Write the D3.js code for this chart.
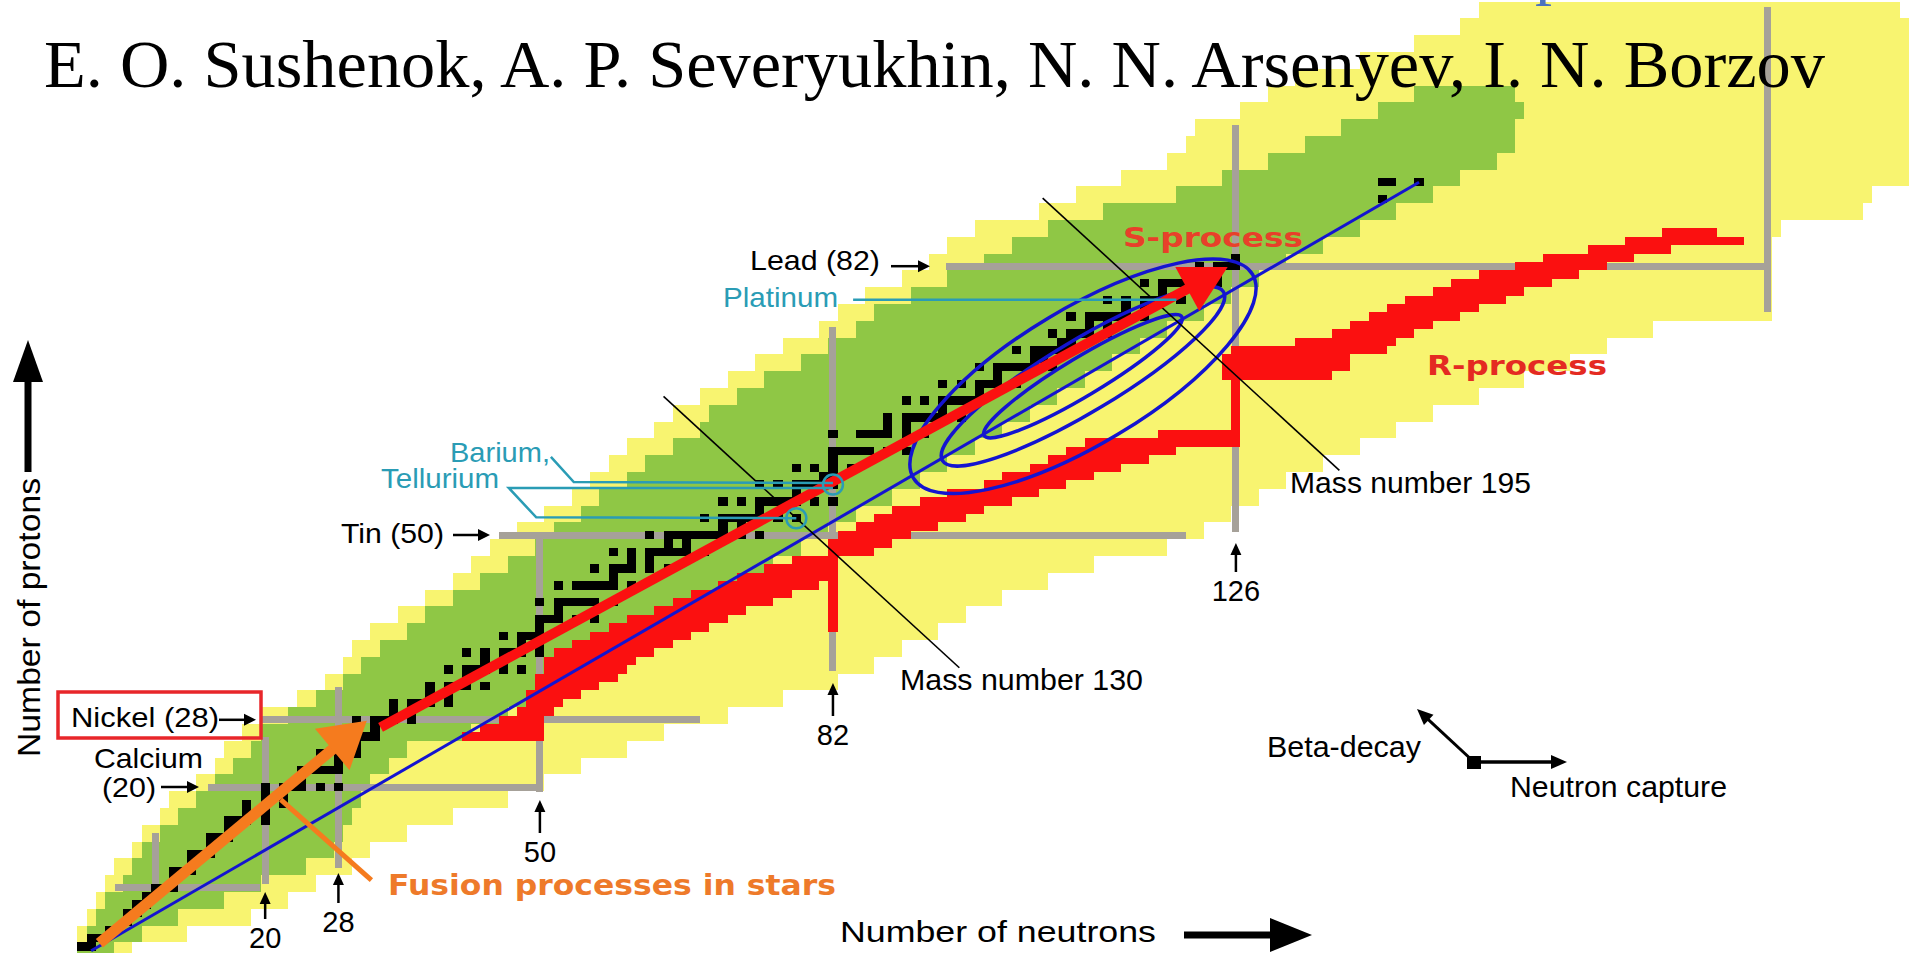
<!DOCTYPE html>
<html>
<head>
<meta charset="utf-8">
<script src="https://cdn.jsdelivr.net/npm/d3@7"></script>
<style>
body { margin: 0; background: #fff; }
svg { display: block; }
text { font-family: "Liberation Sans", Arial, sans-serif; }
</style>
</head>
<body>
<script>
// chart of nuclides with the s- and r-process paths

var width = 1915,
    height = 953;

// band rows, two proton numbers each (Z and Z+1); neutron number ranges
var rowZ     = [0, 2, 4, 6, 8, 10, 12, 14, 16, 18, 20, 22, 24, 26, 28, 30, 32, 34, 36, 38, 40, 42, 44, 46, 48, 50, 52, 54, 56, 58, 60, 62, 64, 66, 68, 70, 72, 74, 76, 78, 80, 82, 84, 86, 88, 90, 92, 94, 96, 98, 100, 102, 104, 106, 108, 110, 112];
var yellowLo = [0, 0, 1, 2, 3, 4, 6, 7, 9, 10, 13, 15, 16, 18, 20, 24, 27, 29, 30, 32, 35, 38, 41, 43, 45, 48, 51, 54, 56, 58, 60, 63, 65, 68, 71, 74, 77, 81, 83, 86, 90, 93, 95, 98, 105, 109, 114, 119, 121, 122, 127, 130, 133, 140, 146, 151, 153];
var yellowHi = [5, 11, 18, 22, 25, 29, 31, 35, 40, 46, 50, 54, 59, 63, 70, 76, 82, 86, 89, 93, 96, 100, 105, 110, 118, 122, 125, 128, 131, 135, 139, 143, 147, 152, 157, 162, 166, 171, 184, 184, 184, 184, 184, 185, 194, 195, 199, 199, 199, 199, 199, 199, 199, 199, 199, 199, 198];
var greenLo  = [0, 1, 2, 3, 5, 6, 7, 9, 11, 13, 15, 17, 19, 20, 23, 26, 29, 31, 33, 36, 38, 41, 44, 47, 50, 52, 55, 57, 60, 62, 65, 68, 69, 72, 75, 79, 82, 85, 87, 91, 95, 99, 102, 106, 112, 120, 125, 130, 134, 138, 142, 146, null, null, null, null, null];
var greenHi  = [3, 6, 10, 15, 19, 24, 27, 28, 29, 30, 31, 33, 35, 42, 46, 50, 53, 57, 60, 63, 66, 69, 72, 75, 78, 81, 84, 88, 91, 94, 97, 100, 103, 106, 109, 112, 115, 118, 122, 125, 128, 131, 135, 139, 143, 147, 150, 154, 156, 156, 157, 156, null, null, null, null, null];

// stable (and very long lived) nuclides: proton number and mass numbers
var stableZ = [1, 2, 3, 4, 5, 6, 7, 8, 9, 10, 11, 12, 13, 14, 15, 16, 17, 18, 19, 20, 21, 22, 23, 24, 25, 26, 27, 28, 29, 30,
  31, 32, 33, 34, 35, 36, 37, 38, 39, 40, 41, 42, 44, 45, 46, 47, 48, 49, 50, 51, 52, 53, 54, 55, 56, 57, 58, 59, 60,
  62, 63, 64, 65, 66, 67, 68, 69, 70, 71, 72, 73, 74, 75, 76, 77, 78, 79, 80, 81, 82, 83, 90, 92];
var stableA = [[1, 2], [3, 4], [6, 7], [9], [10, 11], [12, 13], [14, 15], [16, 17, 18], [19], [20, 21, 22], [23], [24, 25, 26],
  [27], [28, 29, 30], [31], [32, 33, 34, 36], [35, 37], [36, 38, 40], [39, 41], [40, 42, 43, 44, 46, 48], [45],
  [46, 47, 48, 49, 50], [51], [50, 52, 53, 54], [55], [54, 56, 57, 58], [59], [58, 60, 61, 62, 64], [63, 65],
  [64, 66, 67, 68, 70], [69, 71], [70, 72, 73, 74, 76], [75], [74, 76, 77, 78, 80, 82], [79, 81], [78, 80, 82, 83, 84, 86],
  [85, 87], [84, 86, 87, 88], [89], [90, 91, 92, 94, 96], [93], [92, 94, 95, 96, 97, 98, 100], [96, 98, 99, 100, 101, 102, 104],
  [103], [102, 104, 105, 106, 108, 110], [107, 109], [106, 108, 110, 111, 112, 113, 114, 116], [113, 115],
  [112, 114, 115, 116, 117, 118, 119, 120, 122, 124], [121, 123], [120, 122, 123, 124, 125, 126, 128, 130], [127],
  [124, 126, 128, 129, 130, 131, 132, 134, 136], [133], [130, 132, 134, 135, 136, 137, 138], [138, 139], [136, 138, 140, 142],
  [141], [142, 143, 144, 145, 146, 148, 150], [144, 147, 148, 149, 150, 152, 154], [151, 153], [152, 154, 155, 156, 157, 158, 160],
  [159], [156, 158, 160, 161, 162, 163, 164], [165], [162, 164, 166, 167, 168, 170], [169], [168, 170, 171, 172, 173, 174, 176],
  [175, 176], [174, 176, 177, 178, 179, 180], [180, 181], [180, 182, 183, 184, 186], [185, 187], [184, 186, 187, 188, 189, 190, 192],
  [191, 193], [190, 192, 194, 195, 196, 198], [197], [196, 198, 199, 200, 201, 202, 204], [203, 205], [204, 206, 207, 208], [209],
  [232], [234, 235, 238]];

// r-process path, one proton number per entry
var rZ  = [26, 27, 28, 29, 30, 31, 32, 33, 34, 35, 36, 37, 38, 39, 40, 41, 42, 43, 44, 45, 46, 47, 48, 49, 50, 51, 52, 53, 54, 55, 56, 57, 58, 59, 60, 61, 62,
           69, 70, 71, 72, 73, 74, 75, 76, 77, 78, 79, 80, 81, 82, 83, 84, 85, 86];
var rLo = [42, 44, 46, 48, 49, 49, 50, 50, 51, 51, 52, 54, 56, 58, 60, 63, 65, 67, 70, 72, 75, 78, 82, 82, 83, 85, 87, 89, 92, 95, 99, 101, 104, 106, 108, 110, 118,
           125, 125, 125, 126, 133, 137, 139, 141, 143, 145, 148, 150, 153, 157, 160, 165, 169, 173];
var rHi = [49, 50, 50, 51, 52, 54, 56, 58, 59, 60, 62, 64, 66, 68, 70, 72, 75, 77, 80, 82, 82, 82, 86, 88, 90, 93, 96, 98, 101, 104, 107, 110, 113, 116, 119, 126, 126,
           136, 138, 138, 142, 143, 145, 147, 150, 152, 155, 157, 160, 163, 166, 169, 173, 181, 178];
// waiting points at closed neutron shells
var waitN  = [50, 82, 126];
var waitZ0 = [26, 39, 61];
var waitZ1 = [33, 47, 72];

// magic numbers drawn as grey lines
var magicZ     = [8, 20, 28, 50, 82];
var magicZfrom = [3.6, 13.8, 19.5, 45.5, 94.3];
var magicZto   = [19.4, 50, 67.5, 120.6, 184];
var magicN     = [8, 20, 28, 50, 82, 126, 184];
var magicNfrom = [7.7, 8.5, 10.4, 19.4, 33.8, 50.4, 76.5];
var magicNto   = [14.5, 26, 31.9, 50, 74.8, 98.8, 112.8];

// labelled shell closures under the chart
var shellN = [20, 28, 50, 82, 126];

// s-process ellipses: centre (N, Z), half axes in neutron units
var ellN = [109.3, 109.3, 109.3];
var ellZ = [68.9, 68.9, 68.9];
var ellA = [21.6, 17.9, 12.6];
var ellB = [7.4, 3.9, 2.1];

// constant mass number lines
var massA  = [130, 195];
var massZ0 = [66.5, 90.1];
var massZ1 = [34.2, 57.7];

var yellow = "#f8f470",
    green = "#8fc745",
    grey = "#a6a199",
    red = "#fb1010",
    blue = "#1414d0",
    orange = "#f57b1e",
    teal = "#2a9cb5";

var x = d3.scaleLinear().domain([0, 200]).range([82, 82 + 200 * 9.158]);
var y = d3.scaleLinear().domain([0, 100]).range([955, 955 - 840]);

var svg = d3.select("body").append("svg")
    .attr("width", width)
    .attr("height", height);

function cells(g, n0, n1, z0, z1, color){
    g.append("rect")
      .attr("x", x(n0 - 0.5))
      .attr("y", y(z1 + 0.5))
      .attr("width", x(n1 + 0.5) - x(n0 - 0.5))
      .attr("height", y(z0 - 0.5) - y(z1 + 0.5))
      .attr("fill", color);
}

function arrow(g, x1, y1, x2, y2, w, head, half, color){
    var dx = x2 - x1, dy = y2 - y1;
    var len = Math.sqrt(dx * dx + dy * dy);
    var ux = dx / len, uy = dy / len;
    var bx = x2 - ux * head, by = y2 - uy * head;
    g.append("line")
      .attr("x1", x1).attr("y1", y1)
      .attr("x2", bx + ux * 2).attr("y2", by + uy * 2)
      .attr("stroke", color).attr("stroke-width", w);
    g.append("path")
      .attr("d", "M" + x2 + "," + y2 +
                 "L" + (bx - uy * half) + "," + (by + ux * half) +
                 "L" + (bx + uy * half) + "," + (by - ux * half) + "Z")
      .attr("fill", color);
}

function label(g, txt, px, py, size, len, opts){
    opts = opts || {};
    var t = g.append("text")
      .attr("x", px).attr("y", py)
      .attr("font-size", size)
      .attr("fill", opts.color || "#000")
      .attr("text-anchor", opts.anchor || "start")
      .text(txt);
    if (opts.bold) t.attr("font-weight", "bold");
    if (opts.family) t.style("font-family", opts.family);
    if (len) t.attr("textLength", len).attr("lengthAdjust", opts.adjust || "spacingAndGlyphs");
    return t;
}

// ---- bands
var band = svg.append("g").attr("shape-rendering", "crispEdges");
rowZ.forEach(function(z, i){
    cells(band, yellowLo[i], yellowHi[i], z, z + 1, yellow);
});
rowZ.forEach(function(z, i){
    if (greenLo[i] !== null)
        cells(band, greenLo[i], greenHi[i], z, z + 1, green);
});

// ---- magic number lines
var magic = svg.append("g").attr("shape-rendering", "crispEdges");
magicZ.forEach(function(z, i){
    magic.append("rect")
      .attr("x", x(magicZfrom[i]))
      .attr("y", y(z) - 3.5)
      .attr("width", x(magicZto[i]) - x(magicZfrom[i]))
      .attr("height", 7)
      .attr("fill", grey);
});
magicN.forEach(function(n, i){
    magic.append("rect")
      .attr("x", x(n) - 3.5)
      .attr("y", y(magicNto[i]))
      .attr("width", 7)
      .attr("height", y(magicNfrom[i]) - y(magicNto[i]))
      .attr("fill", grey);
});

// ---- stable nuclides
var stable = svg.append("g").attr("shape-rendering", "crispEdges");
stableZ.forEach(function(z, i){
    stableA[i].forEach(function(a){
        cells(stable, a - z, a - z, z, z, "#000");
    });
});

// ---- r-process
var rproc = svg.append("g").attr("shape-rendering", "crispEdges");
rZ.forEach(function(z, i){
    cells(rproc, rLo[i], rHi[i], z, z, red);
});
waitN.forEach(function(n, i){
    cells(rproc, n, n, waitZ0[i], waitZ1[i], red);
});

// ---- blue valley line and ellipses
var over = svg.append("g");
over.append("line")
    .attr("x1", x(1)).attr("y1", y(0.5))
    .attr("x2", x(146)).attr("y2", y(92))
    .attr("stroke", blue).attr("stroke-width", 3);

ellN.forEach(function(n, i){
    var cx = x(n), cy = y(ellZ[i]);
    over.append("ellipse")
      .attr("cx", cx).attr("cy", cy)
      .attr("rx", x(ellA[i]) - x(0))
      .attr("ry", x(ellB[i]) - x(0))
      .attr("transform", "rotate(-31," + cx + "," + cy + ")")
      .attr("fill", "none")
      .attr("stroke", blue)
      .attr("stroke-width", 3.5);
});

// constant mass number lines
massA.forEach(function(a, i){
    over.append("line")
      .attr("x1", x(a - massZ0[i])).attr("y1", y(massZ0[i]))
      .attr("x2", x(a - massZ1[i])).attr("y2", y(massZ1[i]))
      .attr("stroke", "#000").attr("stroke-width", 1.6);
});

// s-process path
arrow(over, x(32.6), y(27.1), x(125.1), y(81.9), 10, 46, 25, red);

// fusion arrow
arrow(over, x(1.9), y(1.4), x(31.1), y(27.9), 11, 45, 27, orange);
over.append("line")
    .attr("x1", x(31.6)).attr("y1", y(8.9))
    .attr("x2", x(21.7)).attr("y2", y(18.5))
    .attr("stroke", orange).attr("stroke-width", 5);

// Ba / Te / Pt markers
var tel = svg.append("g").attr("fill", "none").attr("stroke", teal).attr("stroke-width", 2.5);
tel.append("polyline").attr("points", [[x(51.2), y(59.3)], [x(53.7), y(56.3)], [x(82), y(56.2)]].join(" "));
tel.append("polyline").attr("points", [[x(82), y(55.6)], [x(46.6), y(55.6)], [x(49.6), y(52.1)], [x(78), y(52)]].join(" "));
tel.append("circle").attr("cx", x(82)).attr("cy", y(56)).attr("r", 10);
tel.append("circle").attr("cx", x(78)).attr("cy", y(52)).attr("r", 10);
tel.append("line")
    .attr("x1", x(84.2)).attr("y1", y(78))
    .attr("x2", x(119.5)).attr("y2", y(78));

// ---- texts
var txt = svg.append("g");
var boldFamily = "'DejaVu Sans', 'Liberation Sans', sans-serif";

// title, with the cut descender of the line above
label(txt, "p", 1535, -8, 68, null, {family: "'Liberation Serif', serif", color: "#4a72c0"});
label(txt, "E. O. Sushenok, A. P. Severyukhin, N. N. Arsenyev, I. N. Borzov", 44, 87, 68, 1781,
      {family: "'Liberation Serif', serif"});

// axes
txt.append("text")
    .attr("transform", "translate(40,757) rotate(-90)")
    .attr("font-size", 32)
    .attr("textLength", 279).attr("lengthAdjust", "spacingAndGlyphs")
    .text("Number of protons");
arrow(txt, 28, 472, 28, 340, 7, 42, 15, "#000");

label(txt, "Number of neutrons", 840, 942, 30, 316);
arrow(txt, 1184, 935, 1312, 935, 7, 42, 17, "#000");

// element labels on the left
txt.append("rect")
    .attr("x", 58).attr("y", 692).attr("width", 203).attr("height", 46)
    .attr("fill", "none").attr("stroke", "#e8262a").attr("stroke-width", 3.5);
label(txt, "Nickel (28)", 71, y(28) + 7, 28, 148);
arrow(txt, 219, y(28), 256, y(28), 2.5, 12, 6, "#000");
label(txt, "Calcium", 94, 768, 28, 109);
label(txt, "(20)", 102, y(20) + 10, 28, 54);
arrow(txt, 161, y(20), 199, y(20), 2.5, 12, 6, "#000");
label(txt, "Tin (50)", 341, y(50) + 8, 28, 103);
arrow(txt, 453, y(50), 490, y(50), 2.5, 12, 6, "#000");
label(txt, "Lead (82)", 750, y(82) + 4, 28, 130);
arrow(txt, 891, y(82), 930, y(82), 2.5, 12, 6, "#000");

label(txt, "Barium,", 450, 462, 28, 100, {color: teal});
label(txt, "Tellurium", 381, 488, 28, 118, {color: teal});
label(txt, "Platinum", 723, y(78) + 7, 28, 115, {color: teal});

// shell closures under the chart
var shellBase = [948, 932, 862, 745, 601];
var shellTip  = [892, 873, 800, 683, 543];
shellN.forEach(function(n, i){
    label(txt, String(n), x(n), shellBase[i], 29, null, {anchor: "middle"});
    arrow(txt, x(n), shellBase[i] - 29, x(n), shellTip[i], 2.5, 12, 5.5, "#000");
});

label(txt, "Mass number 130", 900, 690, 29, 243);
label(txt, "Mass number 195", 1290, 493, 29, 241);

label(txt, "S-process", 1123, 247, 26, 180, {bold: true, color: "#e8402a", family: boldFamily});
label(txt, "R-process", 1427, 375, 26, 180, {bold: true, color: "#e42a22", family: boldFamily});
label(txt, "Fusion processes in stars", 388, 895, 29, 448, {bold: true, color: "#ee7a2a", family: boldFamily});

// decay legend
txt.append("rect").attr("x", 1467).attr("y", 756).attr("width", 14).attr("height", 13).attr("fill", "#000");
arrow(txt, 1474, 762, 1417, 709, 3, 16, 7, "#000");
arrow(txt, 1481, 762, 1567, 762, 3.5, 16, 7, "#000");
label(txt, "Beta-decay", 1267, 757, 29, 154);
label(txt, "Neutron capture", 1510, 797, 29, 217);
</script>
</body>
</html>
